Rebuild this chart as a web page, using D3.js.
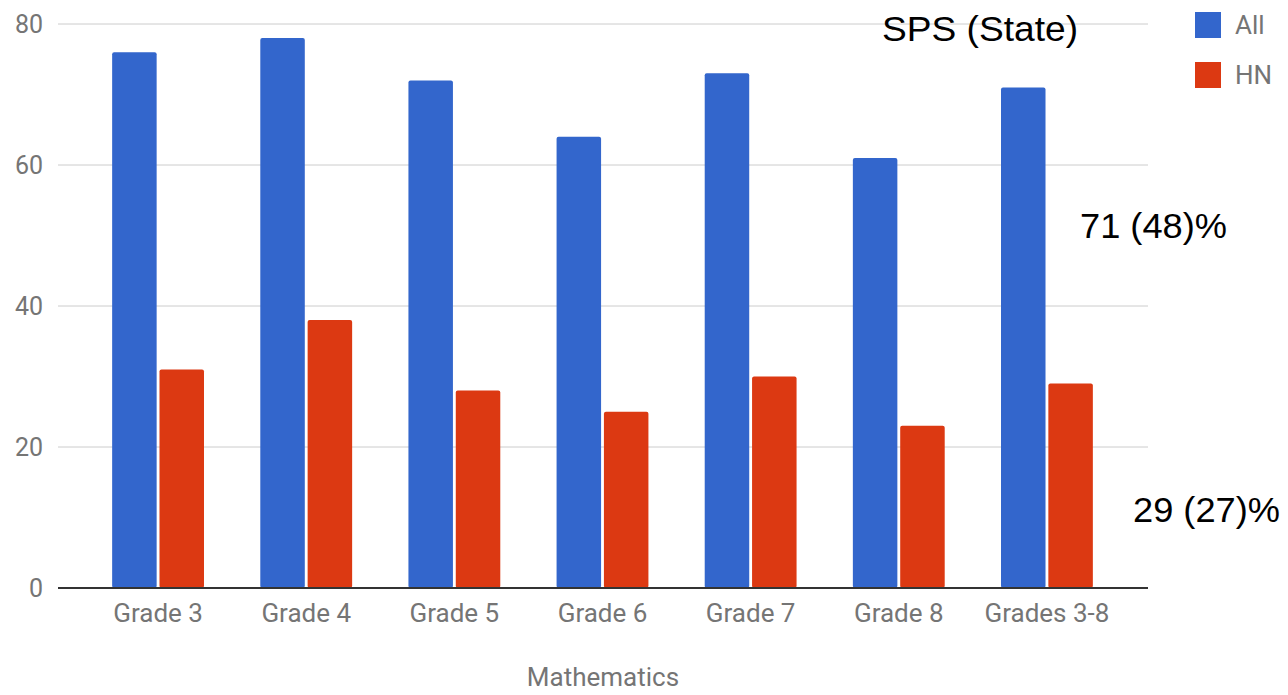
<!DOCTYPE html>
<html>
<head>
<meta charset="utf-8">
<script src="https://cdn.jsdelivr.net/npm/d3@7"></script>
<style>
  html, body { margin: 0; padding: 0; background: #fff; }
  svg { display: block; }
</style>
</head>
<body>
<svg id="chart" width="1288" height="695"></svg>
<script>
// Proficiency (%) in Mathematics by grade, all students vs. HN students
const categories = ["Grade 3", "Grade 4", "Grade 5", "Grade 6", "Grade 7", "Grade 8", "Grades 3-8"];
const seriesNames = ["All", "HN"];
const allValues = [76, 78, 72, 64, 73, 61, 71];
const hnValues = [31, 38, 28, 25, 30, 23, 29];
const yTicks = [0, 20, 40, 60, 80];
const colors = ["#3366cc", "#dc3912"];
const axisTitle = "Mathematics";
const notes = [
  { text: "SPS (State)", x: 882, y: 41, len: 196 },
  { text: "71 (48)%", x: 1080, y: 238, len: 147 },
  { text: "29 (27)%", x: 1133, y: 522, len: 147 }
];

const svg = d3.select("#chart");
const plot = { left: 58, right: 1148, top: 24, bottom: 588 };

const y = d3.scaleLinear().domain([0, 80]).range([plot.bottom, plot.top]);
const x0 = d3.scaleBand().domain(categories).range([84, 1121])
  .paddingInner(0.38).paddingOuter(0.19);
const x1 = d3.scaleBand().domain(seriesNames).range([0, x0.bandwidth()]).paddingInner(0.06);
const color = d3.scaleOrdinal().domain(seriesNames).range(colors);

const rows = categories.map((c, i) => ({ cat: c, values: [
  { key: "All", value: allValues[i] },
  { key: "HN", value: hnValues[i] }
]}));

// Horizontal gridlines
svg.append("g")
  .selectAll("line")
  .data(yTicks.filter(t => t !== 0))
  .join("line")
  .attr("x1", plot.left).attr("x2", plot.right)
  .attr("y1", d => y(d)).attr("y2", d => y(d))
  .attr("stroke", "#cccccc").attr("stroke-width", 1);

// Y axis labels
const yAxis = svg.append("g")
  .attr("transform", `translate(${plot.left - 15},0)`)
  .call(d3.axisLeft(y).tickValues(yTicks).tickSize(0).tickPadding(0));
yAxis.select(".domain").remove();
yAxis.selectAll("text")
  .attr("font-family", "Roboto, sans-serif")
  .attr("font-size", 25)
  .attr("fill", "#757575")
  .attr("dy", "0.32em");

// Bars
svg.append("g")
  .selectAll("g")
  .data(rows)
  .join("g")
  .attr("transform", d => `translate(${x0(d.cat)},0)`)
  .selectAll("rect")
  .data(d => d.values)
  .join("rect")
  .attr("x", d => x1(d.key))
  .attr("width", x1.bandwidth())
  .attr("y", d => y(d.value))
  .attr("height", d => y(0) - y(d.value))
  .attr("rx", 2)
  .attr("fill", d => color(d.key));

// Baseline
svg.append("line")
  .attr("x1", plot.left).attr("x2", plot.right)
  .attr("y1", y(0)).attr("y2", y(0))
  .attr("stroke", "#333333").attr("stroke-width", 2);

// X axis labels
const xAxis = svg.append("g")
  .attr("transform", `translate(0,${y(0)})`)
  .call(d3.axisBottom(x0).tickSize(0).tickPadding(0));
xAxis.select(".domain").remove();
xAxis.selectAll("text")
  .attr("font-family", "Roboto, sans-serif")
  .attr("font-size", 26)
  .attr("fill", "#757575")
  .attr("y", 34)
  .attr("dy", 0);

// Axis title
svg.append("text")
  .attr("x", (plot.left + plot.right) / 2)
  .attr("y", 686)
  .attr("text-anchor", "middle")
  .attr("font-family", "Roboto, sans-serif")
  .attr("font-size", 26)
  .attr("fill", "#757575")
  .text(axisTitle);

// Legend
const legend = svg.append("g")
  .selectAll("g")
  .data(seriesNames)
  .join("g")
  .attr("transform", (d, i) => `translate(1195,${12 + i * 50})`);
legend.append("rect")
  .attr("width", 26).attr("height", 26)
  .attr("fill", d => color(d));
legend.append("text")
  .attr("x", 40).attr("y", 13).attr("dy", "0.35em")
  .attr("font-family", "Roboto, sans-serif")
  .attr("font-size", 26)
  .attr("fill", "#757575")
  .text(d => d);

// Annotations
svg.append("g")
  .selectAll("text")
  .data(notes)
  .join("text")
  .attr("x", d => d.x).attr("y", d => d.y)
  .attr("font-family", "Arial, 'Liberation Sans', sans-serif")
  .attr("font-size", 35)
  .attr("fill", "#000")
  .attr("textLength", d => d.len)
  .attr("lengthAdjust", "spacingAndGlyphs")
  .text(d => d.text);
</script>
</body>
</html>
